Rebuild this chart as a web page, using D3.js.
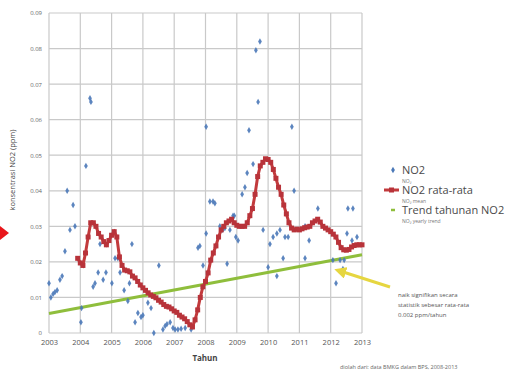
<!DOCTYPE html>
<html>
<head>
<meta charset="utf-8">
<script src="https://cdn.jsdelivr.net/npm/d3@7"></script>
<style>
  body { margin: 0; background: #fff; }
  text { font-family: "Open Sans", "Liberation Sans", sans-serif; }
</style>
</head>
<body>
<svg id="chart" width="510" height="376"></svg>
<script>
// ---- data ----
var yearTicks = [2003, 2004, 2005, 2006, 2007, 2008, 2009, 2010, 2011, 2012, 2013];
var valueTicks = [0, 0.01, 0.02, 0.03, 0.04, 0.05, 0.06, 0.07, 0.08, 0.09];

// NO2 monthly measurements (blue points)
var noYear = [2003.00, 2003.06, 2003.13, 2003.19, 2003.26, 2003.35, 2003.42, 2003.51, 2003.58, 2003.67,
  2003.77, 2003.83, 2004.02, 2004.04, 2004.18, 2004.31, 2004.34, 2004.41, 2004.47, 2004.57,
  2004.63, 2004.73, 2004.82, 2005.01, 2005.11, 2005.20, 2005.27, 2005.40, 2005.52, 2005.57,
  2005.65, 2005.75, 2005.84, 2005.94, 2006.00, 2006.16, 2006.26, 2006.35, 2006.51, 2006.64,
  2006.71, 2006.77, 2006.87, 2006.96, 2007.03, 2007.12, 2007.22, 2007.35, 2007.54, 2007.66,
  2007.76, 2007.82, 2007.92, 2008.02, 2008.02, 2008.14, 2008.24, 2008.30, 2008.46, 2008.55,
  2008.62, 2008.69, 2008.78, 2008.88, 2008.92, 2008.97, 2009.04, 2009.17, 2009.26, 2009.33,
  2009.39, 2009.52, 2009.61, 2009.68, 2009.74, 2009.84, 2010.00, 2010.06, 2010.16, 2010.28,
  2010.28, 2010.38, 2010.48, 2010.54, 2010.64, 2010.76, 2010.83, 2011.18, 2011.18, 2011.31,
  2011.59, 2012.07, 2012.17, 2012.30, 2012.39, 2012.43, 2012.52, 2012.55, 2012.68, 2012.71,
  2012.84];
var noValue = [0.014, 0.010, 0.011, 0.0115, 0.012, 0.015, 0.016, 0.023, 0.040, 0.029,
  0.036, 0.030, 0.003, 0.007, 0.047, 0.066, 0.065, 0.013, 0.014, 0.017,
  0.025, 0.015, 0.017, 0.014, 0.021, 0.021, 0.017, 0.012, 0.009, 0.014,
  0.025, 0.003, 0.0056, 0.0045, 0.005, 0.0085, 0.007, 0.000, 0.019, 0.001,
  0.002, 0.0025, 0.003, 0.0014, 0.001, 0.001, 0.0012, 0.0014, 0.001, 0.0037,
  0.024, 0.0245, 0.019, 0.028, 0.058, 0.037, 0.037, 0.0365, 0.030, 0.029,
  0.0295, 0.0195, 0.029, 0.033, 0.033, 0.027, 0.026, 0.039, 0.041, 0.045,
  0.057, 0.0475, 0.0795, 0.065, 0.082, 0.029, 0.0185, 0.025, 0.027, 0.028,
  0.016, 0.029, 0.021, 0.027, 0.027, 0.058, 0.040, 0.021, 0.030, 0.026,
  0.035, 0.0205, 0.014, 0.0205, 0.018, 0.0205, 0.028, 0.035, 0.026, 0.035,
  0.027];

// NO2 rata-rata (moving mean), monthly from Dec 2003
var meanStart = 2003 + 11 / 12;
var meanValue = [
  0.021, 0.0197, 0.019, 0.0225, 0.027, 0.031, 0.031, 0.030, 0.028, 0.027, 0.0257, 0.0248,
  0.026, 0.0275, 0.0285, 0.027, 0.0214, 0.019, 0.0177, 0.0175, 0.0172, 0.016, 0.0155, 0.0145,
  0.0135, 0.0127, 0.012, 0.0113, 0.0107, 0.0103, 0.0099, 0.0092, 0.0087, 0.008, 0.0075, 0.0073,
  0.0068, 0.0062, 0.0058, 0.005, 0.0045, 0.004, 0.0032, 0.0023, 0.0017, 0.0037, 0.0065, 0.010,
  0.013, 0.0145, 0.0169, 0.0205, 0.0225, 0.0245, 0.027, 0.029, 0.030, 0.031, 0.0315, 0.032,
  0.031, 0.0303, 0.030, 0.030, 0.030, 0.031, 0.033, 0.035, 0.039, 0.044, 0.047, 0.048,
  0.049, 0.0488, 0.048, 0.046, 0.0435, 0.041, 0.039, 0.036, 0.0335, 0.031, 0.0295, 0.029,
  0.0292, 0.029, 0.0293, 0.0296, 0.0298, 0.030, 0.031, 0.0315, 0.032, 0.0312, 0.030, 0.0295,
  0.029, 0.0285, 0.0278, 0.027, 0.0255, 0.024, 0.0234, 0.0233, 0.0235, 0.0242, 0.0246, 0.0248,
  0.0248, 0.0248];

// Trend tahunan NO2
var trendYear = [2003, 2013];
var trendValue = [0.0055, 0.022];

var legendLabels = ["NO2", "NO2 rata-rata", "Trend tahunan NO2"];
var legendSubs = ["NO\u2082", "NO\u2082 mean", "NO\u2082 yearly trend"];
var noteLines = ["naik signifikan secara", "statistik sebesar rata-rata", "0.002 ppm/tahun"];

// ---- drawing ----
var svg = d3.select("#chart");
var blue = "#4a78b8", red = "#c23a3c", green = "#8fbe3c", grid = "#c9c9c9";

var x = d3.scaleLinear().domain([2003, 2013]).range([49, 362]);
var y = d3.scaleLinear().domain([0, 0.09]).range([333, 13]);

// grid
svg.append("g").selectAll("line.h")
  .data(valueTicks).enter().append("line")
  .attr("x1", x(2003)).attr("x2", x(2013))
  .attr("y1", d => y(d)).attr("y2", d => y(d))
  .attr("stroke", grid).attr("stroke-width", 1.2);
svg.append("g").selectAll("line.v")
  .data(yearTicks).enter().append("line")
  .attr("x1", d => x(d)).attr("x2", d => x(d))
  .attr("y1", y(0.09)).attr("y2", y(0))
  .attr("stroke", grid).attr("stroke-width", 1.2);

// axes (text only, Excel style)
var xAxis = d3.axisBottom(x).tickValues(yearTicks).tickFormat(d3.format("d")).tickSize(0).tickPadding(7);
svg.append("g").attr("transform", "translate(0," + y(0) + ")").call(xAxis)
  .call(g => g.select(".domain").remove())
  .selectAll("text").attr("font-size", 7.5).attr("fill", "#555");

var yAxis = d3.axisLeft(y).tickValues(valueTicks)
  .tickFormat(d => d === 0 ? "0" : d3.format(".2f")(d)).tickSize(0).tickPadding(7);
svg.append("g").attr("transform", "translate(" + x(2003) + ",0)").call(yAxis)
  .call(g => g.select(".domain").remove())
  .selectAll("text").attr("font-size", 6).attr("fill", "#666");

// axis titles
svg.append("text").attr("x", 205).attr("y", 361).attr("text-anchor", "middle")
  .attr("font-size", 8).attr("font-weight", "bold").attr("fill", "#444").text("Tahun");
svg.append("text").attr("transform", "translate(15,170) rotate(-90)").attr("text-anchor", "middle")
  .attr("font-size", 7.5).attr("fill", "#444").text("konsentrasi NO2 (ppm)");

// trend line
var trendLine = d3.line().x((d, i) => x(trendYear[i])).y(d => y(d));
svg.append("path").datum(trendValue).attr("d", trendLine)
  .attr("fill", "none").attr("stroke", green).attr("stroke-width", 3);

// blue points
var diamond = d3.symbol().type(d3.symbolDiamond).size(12);
svg.append("g").selectAll("path")
  .data(noValue).enter().append("path")
  .attr("d", diamond)
  .attr("transform", (d, i) => "translate(" + x(noYear[i]) + "," + y(d) + ")")
  .attr("fill", blue).attr("opacity", 0.9);

// red mean line with square markers
var meanLine = d3.line().x((d, i) => x(meanStart + i / 12)).y(d => y(d));
svg.append("path").datum(meanValue).attr("d", meanLine)
  .attr("fill", "none").attr("stroke", red).attr("stroke-width", 3);
svg.append("g").selectAll("rect")
  .data(meanValue).enter().append("rect")
  .attr("x", (d, i) => x(meanStart + i / 12) - 2.5)
  .attr("y", d => y(d) - 2.5)
  .attr("width", 5).attr("height", 5)
  .attr("fill", "#b8333a");

// legend
var lg = svg.append("g").attr("transform", "translate(402,0)");
var rows = [174, 194, 214];
lg.selectAll("text.lab").data(legendLabels).enter().append("text")
  .attr("x", 0).attr("y", (d, i) => rows[i])
  .attr("font-size", 11).attr("fill", "#4a4a4a").text(d => d);
lg.selectAll("text.sub").data(legendSubs).enter().append("text")
  .attr("x", 0).attr("y", (d, i) => rows[i] + 8.5)
  .attr("font-size", 5).attr("fill", "#777").text(d => d);
lg.append("path").attr("d", diamond).attr("transform", "translate(-9," + (rows[0] - 4) + ")").attr("fill", blue);
lg.append("line").attr("x1", -18).attr("x2", -3).attr("y1", rows[1] - 4).attr("y2", rows[1] - 4)
  .attr("stroke", red).attr("stroke-width", 3);
lg.append("rect").attr("x", -13).attr("y", rows[1] - 6.5).attr("width", 5).attr("height", 5).attr("fill", "#b8333a");
lg.append("line").attr("x1", -11).attr("x2", -7).attr("y1", rows[2] - 4).attr("y2", rows[2] - 4)
  .attr("stroke", green).attr("stroke-width", 2.5);

// annotation arrow
svg.append("defs").append("marker").attr("id", "head")
  .attr("viewBox", "0 0 10 10").attr("refX", 5).attr("refY", 5)
  .attr("markerWidth", 4).attr("markerHeight", 4).attr("orient", "auto")
  .append("path").attr("d", "M0,0 L10,5 L0,10 z").attr("fill", "#e6d640");
svg.append("line").attr("x1", 390).attr("y1", 287).attr("x2", 340).attr("y2", 271)
  .attr("stroke", "#e6d640").attr("stroke-width", 3).attr("marker-end", "url(#head)");

svg.append("g").selectAll("text").data(noteLines).enter().append("text")
  .attr("x", 398).attr("y", (d, i) => 297 + i * 10)
  .attr("font-size", 6).attr("fill", "#555").text(d => d);

svg.append("text").attr("x", 340).attr("y", 369)
  .attr("font-size", 5.5).attr("fill", "#666")
  .text("diolah dari: data BMKG dalam BPS, 2008-2013");

// red pointer on the left edge of the slide
svg.append("path").attr("d", "M0,226 L9,233 L0,240 Z").attr("fill", "#e8161b");
</script>
</body>
</html>
